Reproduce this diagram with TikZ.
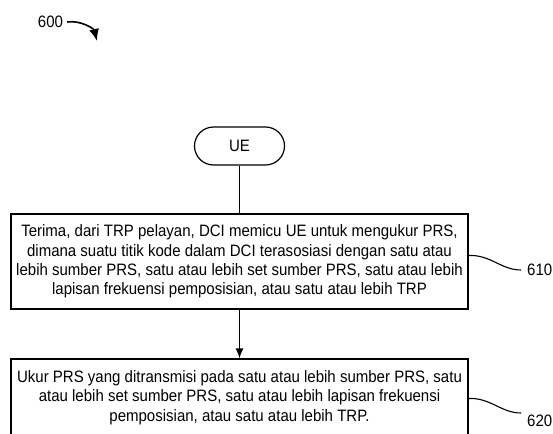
\documentclass[tikz,border=0pt]{standalone}
\usepackage{fontspec}
\setmainfont{Liberation Sans}[FakeStretch=0.91]
\usetikzlibrary{arrows.meta,calc}
\tikzset{
  base/.style={font=\fontsize{16.5}{19.4}\selectfont, text=black},
  stepbox/.style={base, draw=black, line width=1.2pt, rectangle, minimum width=457pt, align=center, inner sep=0pt},
  termbox/.style={base, draw=black, line width=1.2pt, rectangle, rounded corners=19pt, minimum width=90pt, minimum height=38pt, inner sep=0pt},
  reflabel/.style={base, inner sep=0pt},
  conn/.style={draw=black, line width=1.2pt},
  wave/.style={draw=black, line width=1.1pt},
}
\begin{document}
\begin{tikzpicture}[x=1pt,y=-1pt]
\useasboundingbox (0,0) rectangle (553,433);
\node[reflabel] (n600) at (50.5,22) {600};
\coordinate (t600) at (97,41);
\draw[line width=1.6pt, -{Latex[length=12pt,width=10pt]}] ([xshift=4pt]n600.east) .. controls +(14,-2) and +(-3,-12) .. (t600);

\node[termbox] (ue) at (239.5,146) {UE};

\node[stepbox, minimum height=95pt] (b1) at (239.5,261.5) {Terima, dari TRP pelayan, DCI memicu UE untuk mengukur PRS,\\dimana suatu titik kode dalam DCI terasosiasi dengan satu atau\\lebih sumber PRS, satu atau lebih set sumber PRS, satu atau lebih\\lapisan frekuensi pemposisian, atau satu atau lebih TRP};

\node[stepbox, minimum height=77pt] (b2) at (239.5,397.5) {Ukur PRS yang ditransmisi pada satu atau lebih sumber PRS, satu\\atau lebih set sumber PRS, satu atau lebih lapisan frekuensi\\pemposisian, atau satu atau lebih TRP.};

\draw[conn] (ue.south) -- (b1.north);
\draw[conn, -{Latex[length=10pt,width=8pt]}] (b1.south) -- (b2.north);

\node[reflabel, anchor=west] (l610) at (527,270) {610};
\node[reflabel, anchor=west] (l620) at (527,421) {620};
\draw[wave] ([yshift=6pt]b1.east) .. controls +(22,-1) and +(-20,0) .. ([xshift=-6pt]l610.west);
\draw[wave] ([yshift=-1pt]b2.east) .. controls +(22,-1) and +(-20,0) .. ([xshift=-6pt,yshift=8pt]l620.west);
\end{tikzpicture}
\end{document}
